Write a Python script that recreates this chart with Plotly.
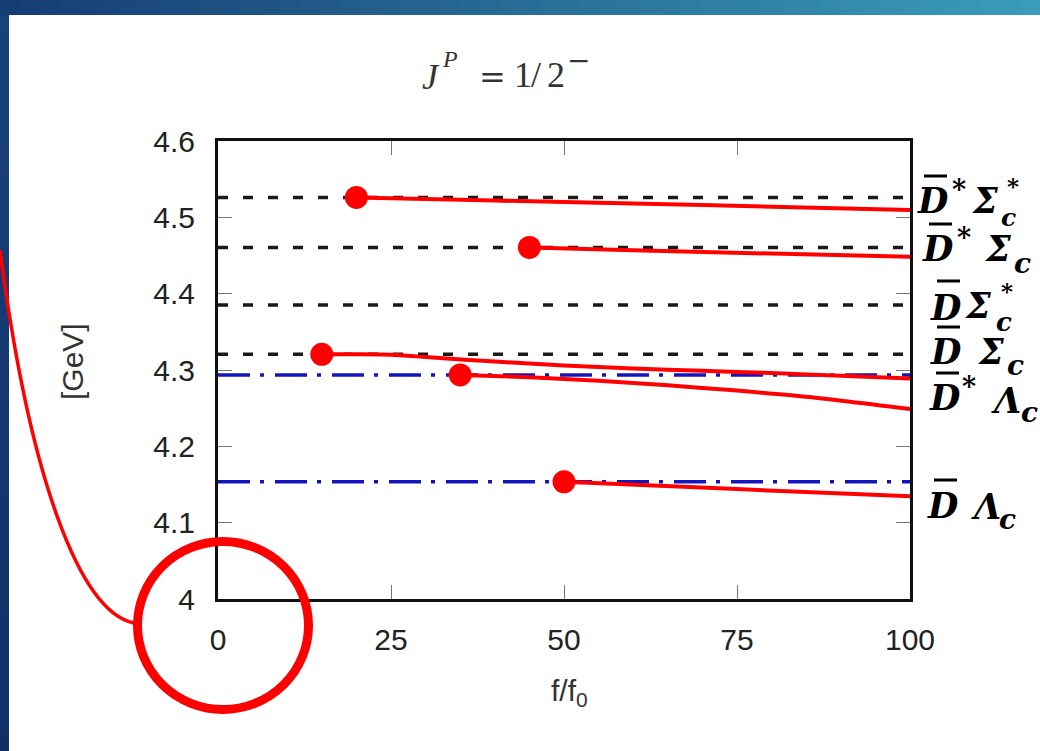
import plotly.graph_objects as go

# ---- data -------------------------------------------------------------
x_ticks = [0, 25, 50, 75, 100]
y_ticks = [4.0, 4.1, 4.2, 4.3, 4.4, 4.5, 4.6]
y_tick_text = ["4", "4.1", "4.2", "4.3", "4.4", "4.5", "4.6"]

# thresholds [GeV]
thr_sigma = [4.526, 4.4605, 4.385, 4.3205]   # D*Sc*, D*Sc, DSc*, DSc  (dashed)
thr_lambda = [4.2935, 4.1535]                # D*Lc, DLc (dash-dot)

# pole trajectories vs f/f0
a_x = [20, 40, 60, 80, 100]
a_y = [4.526, 4.522, 4.518, 4.514, 4.5095]
b_x = [45, 60, 80, 100]
b_y = [4.4605, 4.457, 4.4525, 4.4485]
c_x = [15, 20, 25, 30, 40, 50, 60, 70, 80, 90, 100]
c_y = [4.3205, 4.3205, 4.3200, 4.317, 4.311, 4.306, 4.302, 4.299, 4.296, 4.2925, 4.289]
d_x = [35, 45, 55, 65, 75, 85, 100]
d_y = [4.2935, 4.2905, 4.286, 4.280, 4.273, 4.265, 4.249]
e_x = [50, 75, 100]
e_y = [4.1535, 4.144, 4.1345]

# starting points of the trajectories
start_x = [20, 45, 15, 35, 50]
start_y = [4.526, 4.4605, 4.3205, 4.2935, 4.1535]

# ---- figure geometry -------------------------------------------------
W, H = 1040, 751
L, R, T, B = 218, 910, 141, 599


def px(x):
    return (x - L) / (R - L)


def py(y):
    return (B - y) / (B - T)


fig = go.Figure()

for v in thr_sigma:
    fig.add_trace(go.Scatter(x=[0, 100], y=[v, v], mode="lines",
                             line=dict(color="#1a1a1a", width=3.5, dash="10px,15px"),
                             hoverinfo="skip"))
for v in thr_lambda:
    fig.add_trace(go.Scatter(x=[0, 100], y=[v, v], mode="lines",
                             line=dict(color="#1414c0", width=3.5, dash="32px,10px,4px,11px"),
                             hoverinfo="skip"))

for xs, ys in [(a_x, a_y), (b_x, b_y), (c_x, c_y), (d_x, d_y), (e_x, e_y)]:
    fig.add_trace(go.Scatter(x=xs, y=ys, mode="lines",
                             line=dict(color="#ff0000", width=4, shape="spline", smoothing=0.6)))

fig.add_trace(go.Scatter(x=start_x, y=start_y, mode="markers",
                         marker=dict(color="#ff0000", size=23, line=dict(width=0))))

tick_font = dict(family="Liberation Sans, Arial, sans-serif", size=30, color="#222")

fig.update_xaxes(range=[0, 100], tickvals=x_ticks, ticks="inside", ticklen=14,
                 tickwidth=1.2, tickcolor="#777", showline=True, linewidth=3,
                 linecolor="#111", mirror="ticks", showgrid=False, zeroline=False,
                 tickfont=tick_font, ticklabelstandoff=12)
fig.update_yaxes(range=[4.0, 4.6], tickvals=y_ticks, ticktext=y_tick_text,
                 ticks="inside", ticklen=14, tickwidth=1.2, tickcolor="#777",
                 showline=True, linewidth=3, linecolor="#111", mirror="ticks",
                 showgrid=False, zeroline=False, tickfont=tick_font,
                 ticklabelstandoff=14)

shapes = []

# slide frame: gradient band on top, darker band on the left
n_top = 52
c0, c1 = (22, 60, 116), (58, 156, 184)
for i in range(n_top):
    t = i / (n_top - 1)
    col = tuple(round(c0[k] + (c1[k] - c0[k]) * t) for k in range(3))
    x0 = i * W / n_top
    shapes.append(dict(type="rect", xref="paper", yref="paper",
                       x0=px(x0), x1=px(x0 + W / n_top + 1), y0=py(15), y1=py(0),
                       fillcolor="rgb(%d,%d,%d)" % col, line=dict(width=0), layer="above"))
n_left = 40
l0, l1 = (24, 66, 124), (17, 46, 104)
for i in range(n_left):
    t = i / (n_left - 1)
    col = tuple(round(l0[k] + (l1[k] - l0[k]) * t) for k in range(3))
    y0 = 15 + i * (H - 15) / n_left
    shapes.append(dict(type="rect", xref="paper", yref="paper",
                       x0=px(0), x1=px(9), y0=py(y0 + (H - 15) / n_left + 1), y1=py(y0),
                       fillcolor="rgb(%d,%d,%d)" % col, line=dict(width=0), layer="above"))

# red callout: curved pointer and circle around the origin
p0, p1, p2, p3 = (0, 250), (30, 480), (80, 612), (134, 623)
path = "M %f,%f C %f,%f %f,%f %f,%f" % (px(p0[0]), py(p0[1]), px(p1[0]), py(p1[1]),
                                         px(p2[0]), py(p2[1]), px(p3[0]), py(p3[1]))
shapes.append(dict(type="path", xref="paper", yref="paper", path=path,
                   line=dict(color="#ff0000", width=3.5), layer="above"))
shapes.append(dict(type="circle", xref="paper", yref="paper",
                   x0=px(137.5), x1=px(308.5), y0=py(709.5), y1=py(541.5),
                   line=dict(color="#ff0000", width=9), layer="above"))

annotations = []


def text_at(txt, x, y, size, family, color="#000", anchor="left", angle=0, **fstyle):
    annotations.append(dict(xref="paper", yref="paper", x=px(x), y=py(y), text=txt,
                            showarrow=False, xanchor=anchor, yanchor="middle",
                            textangle=angle,
                            font=dict(family=family, size=size, color=color, **fstyle)))


# title  J^P = 1/2^-
serif = "Liberation Serif, serif"
text_at("J", 420, 77, 36, serif, "#333", style="italic")
text_at("P", 440, 59, 24, serif, "#333", style="italic")
text_at("=", 477, 77, 32, "DejaVu Serif, serif", "#333")
text_at("1", 512, 75, 36, serif, "#333")
text_at("/", 529, 75, 36, serif, "#333")
text_at("2", 545, 75, 36, serif, "#333")
text_at("\u2212", 565, 60, 28, "DejaVu Serif, serif", "#333")

# axis titles
sans = "Liberation Sans, Arial, sans-serif"
text_at("[GeV]", 72, 362, 30, sans, "#333", anchor="center", angle=-90)
text_at("f/f<sub>0</sub>", 569, 692, 30, sans, "#333", anchor="center")

# threshold labels, built glyph by glyph
lab_font = "DejaVu Serif, serif"


def glyph(txt, x, y, size):
    text_at(txt, x, y, size, lab_font, "#000", weight="bold", style="italic")


def bar(x0, x1, y):
    shapes.append(dict(type="line", xref="paper", yref="paper",
                       x0=px(x0), x1=px(x1), y0=py(y), y1=py(y),
                       line=dict(color="#000", width=3), layer="above"))


BIG, SMALL, STAR, STACK = 35, 28, 27, 23

# D* Sigma_c*
glyph("D", 915, 200, BIG); bar(924, 947, 176)
glyph("*", 950, 189, STAR)
glyph("\u03a3", 969, 200, BIG)
glyph("*", 1005, 186, STACK); glyph("c", 999, 217, SMALL - 3)
# D* Sigma_c
glyph("D", 920, 248, BIG); bar(929, 952, 224)
glyph("*", 955, 237, STAR)
glyph("\u03a3", 982, 248, BIG)
glyph("c", 1012, 263, SMALL)
# D Sigma_c*
glyph("D", 928, 307, BIG); bar(937, 960, 281)
glyph("\u03a3", 962, 305, BIG)
glyph("*", 999, 290, STACK); glyph("c", 994, 322, SMALL - 2)
# D Sigma_c
glyph("D", 928, 351, BIG); bar(937, 960, 327)
glyph("\u03a3", 975, 351, BIG)
glyph("c", 1005, 365, SMALL)
# D* Lambda_c
glyph("D", 927, 398, BIG); bar(936, 959, 373)
glyph("*", 960, 386, STAR)
glyph("\u039b", 989, 400, BIG)
glyph("c", 1019, 412, SMALL)
# D Lambda_c
glyph("D", 925, 505, BIG); bar(934, 957, 480)
glyph("\u039b", 969, 506, BIG)
glyph("c", 997, 519, SMALL)

fig.update_layout(width=W, height=H, margin=dict(l=L, r=W - R, t=T, b=H - B),
                  paper_bgcolor="white", plot_bgcolor="white", showlegend=False,
                  shapes=shapes, annotations=annotations)

fig.write_html("out.html")
